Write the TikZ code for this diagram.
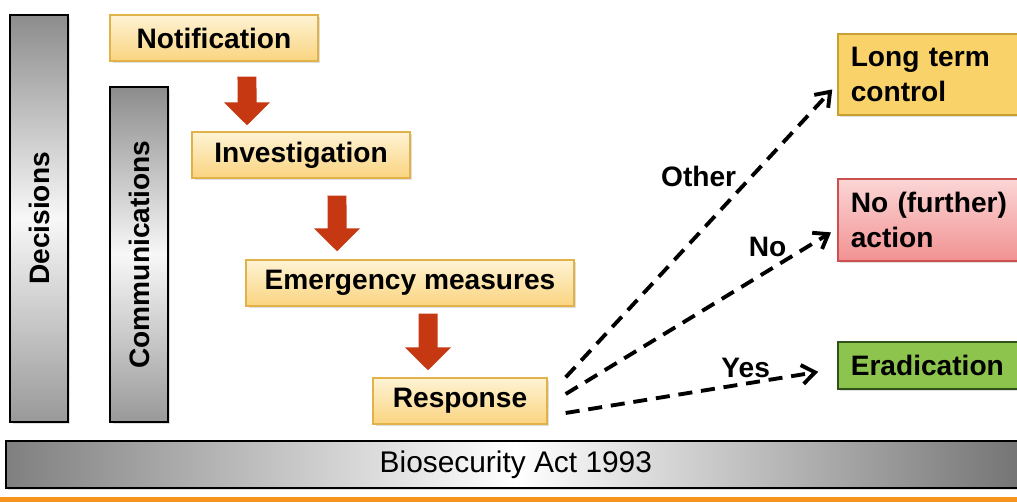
\documentclass[tikz,border=0pt]{standalone}
\usepackage{fontspec}
\setmainfont{Liberation Sans}
\usepackage{tikz}
\usetikzlibrary{positioning,arrows.meta,shadows}

\definecolor{steptop}{RGB}{254,243,212}
\definecolor{stepbot}{RGB}{250,212,128}
\definecolor{stepline}{RGB}{224,178,72}
\definecolor{arrfill}{RGB}{198,56,18}
\definecolor{ltcfill}{RGB}{249,211,106}
\definecolor{ltcline}{RGB}{200,160,50}
\definecolor{natop}{RGB}{252,214,214}
\definecolor{nabot}{RGB}{241,146,146}
\definecolor{naline}{RGB}{205,80,80}
\definecolor{eradfill}{RGB}{140,196,78}
\definecolor{eradline}{RGB}{50,80,25}
\definecolor{rule}{RGB}{247,148,29}

\begin{document}
\begin{tikzpicture}[
    x=0.02cm, y=-0.02cm,
    font=\fontsize{16}{20}\selectfont\bfseries,
    shd/.style={drop shadow={opacity=0.25, shadow xshift=0.05cm, shadow yshift=-0.05cm}},
    stage/.style={draw=stepline, line width=0.8pt, top color=steptop, bottom color=stepbot,
        minimum height=0.92cm, inner sep=2pt, shd},
    bar/.style={draw=black, line width=1.1pt, minimum width=1.16cm, inner sep=0pt,
        top color=black!45, bottom color=black!40, middle color=black!3, shd},
    blk/.style={line width=0.38cm, draw=arrfill,
        -{Triangle[width=0.9cm, length=0.46cm]}},
    outcome/.style={anchor=north west, align=left, text width=3.6cm, inner xsep=0.26cm,
        line width=0.9pt, shd},
    dsh/.style={line width=2.2pt, dash pattern=on 8pt off 5pt,
        -{Straight Barb[length=2.6mm, width=3.8mm]}},
    lbl/.style={inner sep=0pt, font=\fontsize{16}{20}\selectfont\bfseries},
]
    \useasboundingbox (0,0) rectangle (1017,502);

    % ---------- side bars ----------
    \node[bar, minimum height=8.14cm] (dec) at (39,218.5) {\rotatebox{90}{Decisions}};
    \node[bar, minimum height=6.7cm] (comm) at (139,254.5) {\rotatebox{90}{Communications}};

    % ---------- process steps ----------
    \node[stage, minimum width=4.16cm] (noti) at (214,38) {Notification};
    \node[stage, minimum width=4.36cm] (inv) at (301,155) {Investigation};
    \node[stage, minimum width=6.56cm] (emer) at (410,283) {Emergency measures};
    \node[stage, minimum width=3.48cm] (resp) at (460,401) {Response};

    \draw[blk] ([xshift=0.66cm, yshift=-0.3cm]noti.south) -- ([xshift=-1.08cm, yshift=0.12cm]inv.north);
    \draw[blk] ([xshift=0.72cm, yshift=-0.34cm]inv.south) -- ([xshift=-1.46cm, yshift=0.16cm]emer.north);
    \draw[blk] ([xshift=0.36cm, yshift=-0.14cm]emer.south) -- ([xshift=-0.64cm, yshift=0.14cm]resp.north);

    % ---------- outcomes ----------
    \node[outcome, draw=ltcline, fill=ltcfill, minimum height=1.62cm] (ltc) at (837,33)
        {Long term\\control};
    \node[outcome, draw=naline, top color=natop, bottom color=nabot, minimum height=1.64cm] (noact) at (837,178)
        {No (further)\\action};
    \node[outcome, draw=eradline, fill=eradfill, minimum height=0.94cm] (erad) at (837,341)
        {Eradication};

    \draw[dsh, shorten >=0.14cm] ([xshift=0.36cm]resp.north east) -- node[lbl, pos=0.7, anchor=east, xshift=-0.35cm, yshift=-0.08cm] {Other}
        ([yshift=-0.2cm]ltc.west);
    \draw[dsh, shorten >=0.14cm] ([xshift=0.36cm, yshift=0.14cm]resp.east) -- node[lbl, pos=0.82, anchor=south east] {No}
        ([yshift=-0.18cm]noact.west);
    \draw[dsh, shorten >=0.38cm] ([xshift=0.36cm, yshift=-0.24cm]resp.east) -- node[lbl, pos=0.76, anchor=south east] {Yes}
        ([yshift=-0.07cm]erad.west);

    % ---------- legislation ----------
    \node[anchor=north west, draw=black, line width=1.1pt, minimum width=20.4cm, minimum height=0.94cm,
        left color=black!50, right color=black!55, middle color=white, shd,
        font=\fontsize{17}{20}\selectfont\mdseries] (act) at (5,440) {Biosecurity Act 1993};
    \fill[rule] (0,497) rectangle (1017,502);
\end{tikzpicture}
\end{document}
